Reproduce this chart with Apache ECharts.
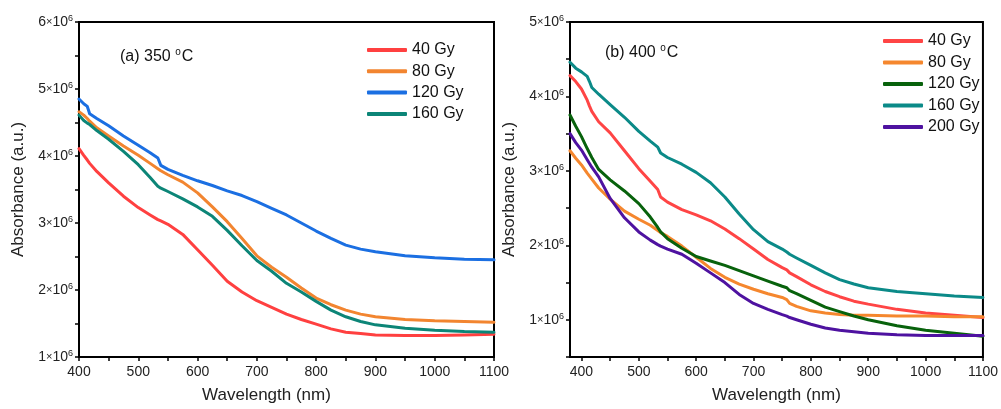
<!DOCTYPE html>
<html>
<head>
<meta charset="utf-8">
<script src="https://cdn.jsdelivr.net/npm/echarts@6/dist/echarts.min.js"></script>
<style>
  html, body { margin: 0; padding: 0; background: #fff; }
  #chart { width: 1001px; height: 409px; }
</style>
</head>
<body>
<div id="chart"></div>
<script>
// Absorbance in units of 10^6 (a.u.), wavelength in nm

// (a) 350 °C
const wlA = [400, 408, 414, 418, 430, 450, 475, 500, 520, 533, 538, 550, 575, 600, 625, 650, 675, 700, 725, 750, 775, 800, 825, 850, 875, 900, 950, 1000, 1050, 1100];
const a40Gy  = [4.11, 4.01, 3.94, 3.89, 3.77, 3.60, 3.40, 3.23, 3.12, 3.05, 3.03, 2.98, 2.83, 2.60, 2.37, 2.13, 1.97, 1.84, 1.74, 1.64, 1.56, 1.49, 1.42, 1.37, 1.35, 1.33, 1.32, 1.32, 1.33, 1.34];
const a80Gy  = [4.66, 4.61, 4.56, 4.52, 4.42, 4.30, 4.15, 4.01, 3.89, 3.81, 3.78, 3.72, 3.61, 3.45, 3.24, 3.02, 2.77, 2.51, 2.34, 2.19, 2.03, 1.88, 1.78, 1.70, 1.64, 1.60, 1.56, 1.54, 1.53, 1.52];
const a120Gy = [4.85, 4.78, 4.74, 4.63, 4.56, 4.45, 4.30, 4.16, 4.05, 3.97, 3.86, 3.80, 3.71, 3.63, 3.56, 3.48, 3.41, 3.32, 3.22, 3.12, 3.00, 2.88, 2.77, 2.67, 2.61, 2.57, 2.51, 2.48, 2.46, 2.45];
const a160Gy = [4.61, 4.53, 4.49, 4.47, 4.38, 4.25, 4.07, 3.87, 3.68, 3.55, 3.52, 3.47, 3.36, 3.24, 3.10, 2.89, 2.66, 2.44, 2.28, 2.10, 1.97, 1.83, 1.70, 1.60, 1.53, 1.48, 1.43, 1.40, 1.38, 1.37];

// (b) 400 °C
const wlB = [380, 390, 400, 410, 414, 418, 430, 450, 475, 500, 520, 533, 538, 550, 575, 600, 625, 650, 675, 700, 725, 750, 758, 763, 775, 800, 825, 850, 875, 900, 950, 1000, 1050, 1100];
const b40Gy  = [4.28, 4.20, 4.10, 3.95, 3.87, 3.80, 3.66, 3.51, 3.27, 3.03, 2.86, 2.75, 2.65, 2.58, 2.48, 2.41, 2.33, 2.22, 2.09, 1.95, 1.81, 1.70, 1.67, 1.63, 1.58, 1.47, 1.38, 1.31, 1.25, 1.21, 1.14, 1.09, 1.06, 1.03];
const b80Gy  = [3.27, 3.17, 3.08, 2.97, 2.93, 2.89, 2.77, 2.62, 2.46, 2.35, 2.27, 2.20, 2.17, 2.12, 1.99, 1.84, 1.69, 1.57, 1.48, 1.41, 1.35, 1.30, 1.27, 1.22, 1.18, 1.12, 1.09, 1.07, 1.06, 1.06, 1.05, 1.05, 1.04, 1.04];
const b120Gy = [3.75, 3.60, 3.46, 3.30, 3.24, 3.18, 3.02, 2.88, 2.73, 2.56, 2.38, 2.24, 2.18, 2.09, 1.96, 1.85, 1.79, 1.73, 1.66, 1.59, 1.52, 1.45, 1.43, 1.39, 1.35, 1.26, 1.17, 1.11, 1.05, 1.00, 0.92, 0.86, 0.82, 0.78];
const b160Gy = [4.46, 4.38, 4.33, 4.27, 4.20, 4.12, 4.03, 3.89, 3.72, 3.53, 3.40, 3.32, 3.24, 3.18, 3.09, 2.98, 2.84, 2.65, 2.42, 2.21, 2.05, 1.95, 1.91, 1.88, 1.83, 1.73, 1.63, 1.54, 1.48, 1.43, 1.38, 1.35, 1.32, 1.30];
const b200Gy = [3.50, 3.38, 3.28, 3.15, 3.10, 3.05, 2.92, 2.63, 2.37, 2.18, 2.07, 2.01, 1.99, 1.95, 1.88, 1.76, 1.63, 1.50, 1.34, 1.22, 1.14, 1.07, 1.05, 1.03, 1.00, 0.94, 0.89, 0.86, 0.84, 0.82, 0.80, 0.79, 0.79, 0.79];

const seriesA = [
  { name: '40 Gy',  values: a40Gy,  color: '#ff4040' },
  { name: '80 Gy',  values: a80Gy,  color: '#f28530' },
  { name: '120 Gy', values: a120Gy, color: '#1b6fe2' },
  { name: '160 Gy', values: a160Gy, color: '#0c8577' }
];
const seriesB = [
  { name: '40 Gy',  values: b40Gy,  color: '#ff4545' },
  { name: '80 Gy',  values: b80Gy,  color: '#f5872e' },
  { name: '120 Gy', values: b120Gy, color: '#08620c' },
  { name: '160 Gy', values: b160Gy, color: '#0b8a88' },
  { name: '200 Gy', values: b200Gy, color: '#4e12a0' }
];

const xLabels  = [400, 500, 600, 700, 800, 900, 1000, 1100];
const xTicks   = [400, 450, 500, 550, 600, 650, 700, 750, 800, 850, 900, 950, 1000, 1050, 1100];
const yLabelsA = [1, 2, 3, 4, 5, 6];
const yTicksA  = [1, 1.5, 2, 2.5, 3, 3.5, 4, 4.5, 5, 5.5, 6];
const yLabelsB = [1, 2, 3, 4, 5];
const yTicksB  = [0.5, 1, 1.5, 2, 2.5, 3, 3.5, 4, 4.5, 5];

const FONT = '"Liberation Sans", Arial, sans-serif';

const chart = echarts.init(document.getElementById('chart'), null, { renderer: 'canvas' });

function xAxisFor(gridIndex, min) {
  return {
    type: 'value', gridIndex, min, max: 1100,
    name: 'Wavelength (nm)', nameLocation: 'middle', nameGap: 30,
    nameTextStyle: { fontFamily: FONT, fontSize: 17, color: '#222',
      padding: gridIndex === 0 ? [0, 40, 0, 0] : [0, 0, 0, 0] },
    axisLine: { show: true, onZero: false, lineStyle: { color: '#000', width: 2 } },
    axisTick: { show: true, length: 4, customValues: xTicks, lineStyle: { color: '#000', width: 1.5 } },
    axisLabel: { customValues: xLabels, formatter: v => String(v),
      fontFamily: FONT, fontSize: 14, color: '#222', margin: 8 },
    splitLine: { show: false }
  };
}

function yAxisFor(gridIndex, min, max, labels, ticks) {
  return {
    type: 'value', gridIndex, min, max,
    name: 'Absorbance (a.u.)', nameLocation: 'middle', nameGap: 52,
    nameTextStyle: { fontFamily: FONT, fontSize: 17, color: '#222' },
    axisLine: { show: true, onZero: false, lineStyle: { color: '#000', width: 2 } },
    axisTick: { show: true, length: 4, customValues: ticks, lineStyle: { color: '#000', width: 1.5 } },
    axisLabel: {
      customValues: labels, margin: 6, color: '#222',
      formatter: v => '{m|' + v + '}{x|×}{m|10}{s|6}',
      rich: {
        m: { fontFamily: FONT, fontSize: 14, color: '#222' },
        x: { fontFamily: FONT, fontSize: 11, color: '#222' },
        s: { fontFamily: FONT, fontSize: 9, color: '#222', verticalAlign: 'top', padding: [0, 0, 7, 0] }
      }
    },
    splitLine: { show: false }
  };
}

function lineSeries(list, wl, idx) {
  return list.map(s => ({
    type: 'line', name: s.name, xAxisIndex: idx, yAxisIndex: idx,
    data: wl.map((w, i) => [w, s.values[i]]),
    showSymbol: false, symbol: 'none', smooth: false,
    lineStyle: { color: s.color, width: 3, join: 'round', cap: 'round' },
    itemStyle: { color: s.color },
    emphasis: { disabled: true },
    z: 3
  }));
}

function legendFor(list, left, top, gap) {
  return {
    orient: 'vertical', left, top, padding: 0,
    icon: 'roundRect', itemWidth: 40, itemHeight: 4, itemGap: gap,
    textStyle: { fontFamily: FONT, fontSize: 16, color: '#111', lineHeight: 18 },
    data: list.map(s => ({ name: s.name, itemStyle: { color: s.color }, lineStyle: { color: s.color } })),
    selectedMode: false
  };
}

function panelTitle(label, left, top) {
  return {
    type: 'text', left, top,
    style: {
      text: '{t|' + label + ' }{s|o}{t|C}',
      rich: {
        t: { fontFamily: FONT, fontSize: 16, fill: '#111' },
        s: { fontFamily: FONT, fontSize: 10, fill: '#111', verticalAlign: 'top', padding: [0, 1, 9, 0] }
      }
    }
  };
}

const option = {
  backgroundColor: '#fff',
  animation: false,
  grid: [
    { left: 79, top: 22, width: 415, height: 335, show: true, borderColor: '#000', borderWidth: 2, backgroundColor: 'transparent' },
    { left: 570, top: 22, width: 416, height: 335, show: true, borderColor: '#000', borderWidth: 2, backgroundColor: 'transparent' }
  ],
  xAxis: [xAxisFor(0, 400), xAxisFor(1, 380)],
  yAxis: [yAxisFor(0, 1, 6, yLabelsA, yTicksA), yAxisFor(1, 0.5, 5, yLabelsB, yTicksB)],
  legend: [legendFor(seriesA, 367, 41, 3.3), legendFor(seriesB, 883, 32, 3.5)],
  series: [...lineSeries(seriesA, wlA, 0), ...lineSeries(seriesB, wlB, 1)],
  graphic: [panelTitle('(a) 350', 120, 47), panelTitle('(b) 400', 605, 43)]
};

chart.setOption(option);
</script>
</body>
</html>
